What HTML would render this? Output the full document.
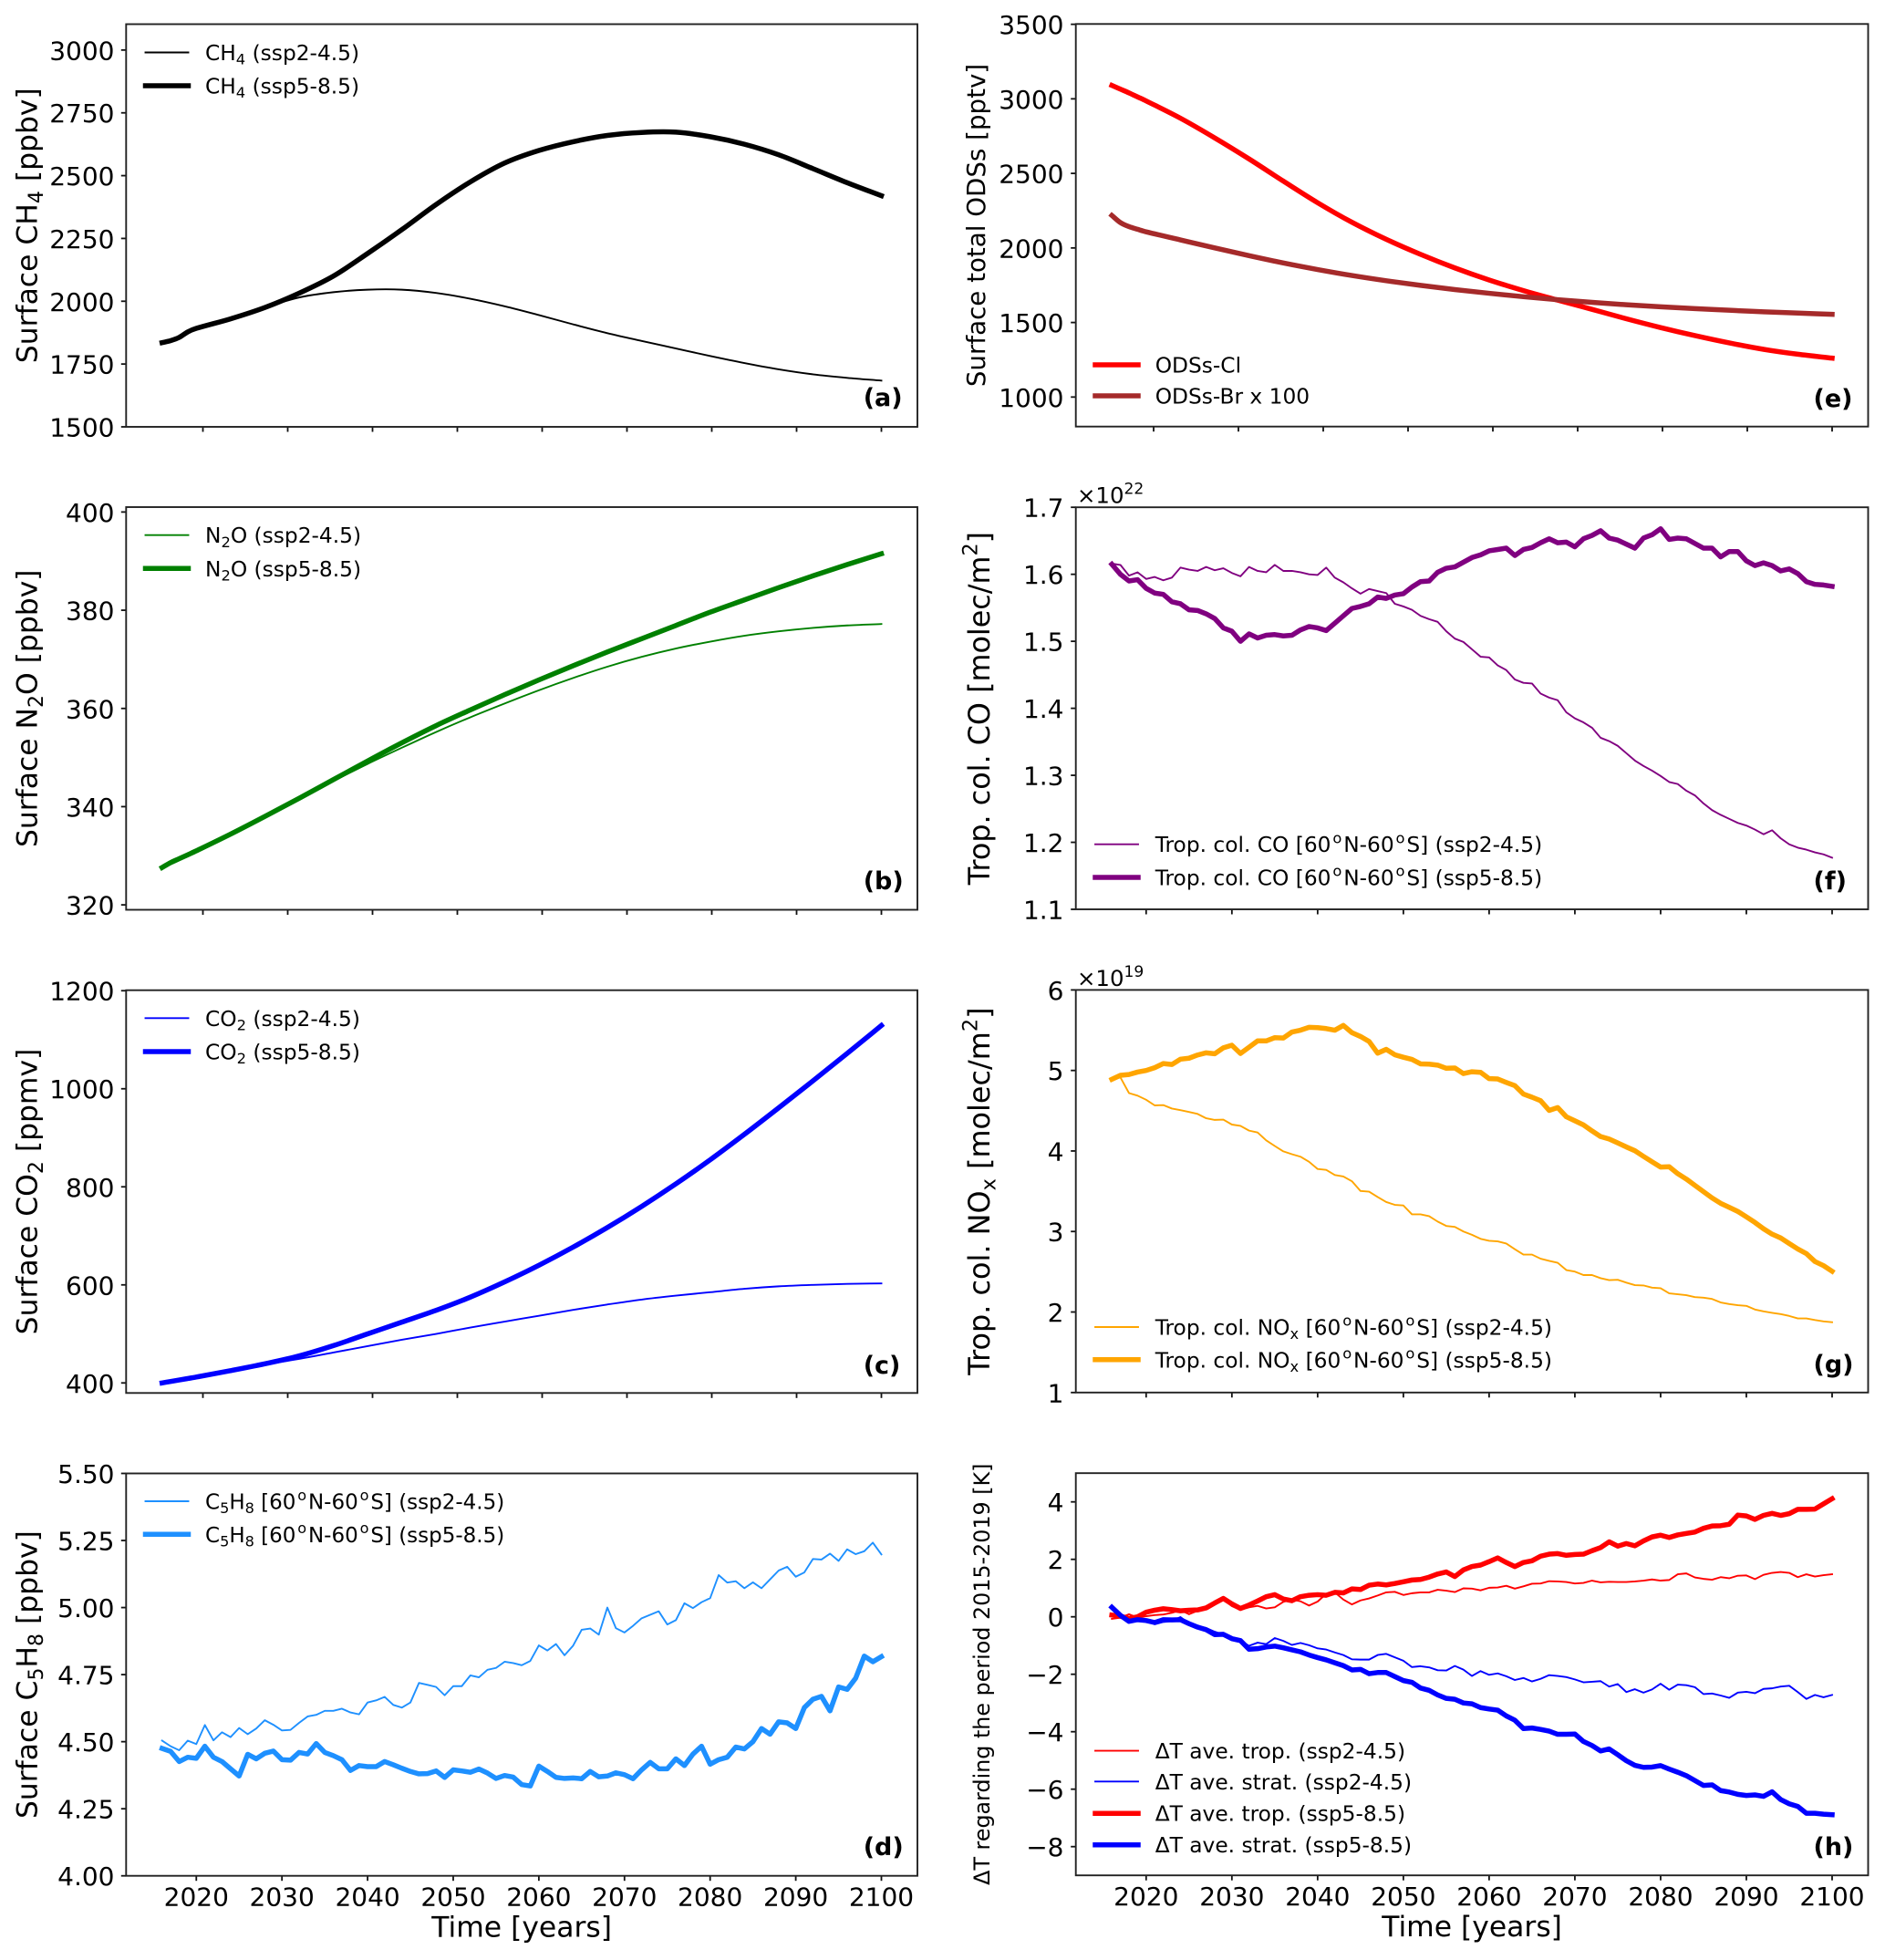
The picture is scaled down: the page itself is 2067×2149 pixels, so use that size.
<!DOCTYPE html>
<html lang="en">
<head>
<meta charset="utf-8">
<title>Projected surface and tropospheric column trends 2016-2100</title>
<style>
html,body{margin:0;padding:0;background:#fff;width:2067px;height:2149px;overflow:hidden}
svg{display:block;font-family:"DejaVu Sans","Liberation Sans",sans-serif;fill:#000}
</style>
</head>
<body>
<svg id="figure" xmlns="http://www.w3.org/2000/svg" width="2067" height="2149" viewBox="0 0 2067 2149"></svg>
<script>
const years = [2016,2017,2018,2019,2020,2021,2022,2023,2024,2025,2026,2027,2028,2029,2030,2031,2032,2033,2034,2035,2036,2037,2038,2039,2040,2041,2042,2043,2044,2045,2046,2047,2048,2049,2050,2051,2052,2053,2054,2055,2056,2057,2058,2059,2060,2061,2062,2063,2064,2065,2066,2067,2068,2069,2070,2071,2072,2073,2074,2075,2076,2077,2078,2079,2080,2081,2082,2083,2084,2085,2086,2087,2088,2089,2090,2091,2092,2093,2094,2095,2096,2097,2098,2099,2100];
const sampledYears = [2016,2017,2018,2019,2020,2024,2028,2032,2036,2040,2044,2048,2052,2056,2060,2064,2068,2072,2076,2080,2084,2088,2092,2096,2100];
const xTickLabels = [2020,2030,2040,2050,2060,2070,2080,2090,2100];

const ch4Ssp245 = [1835,1843,1856,1878,1892,1930,1975,2015,2036,2046,2046,2033,2010,1980,1945,1908,1873,1842,1812,1782,1754,1729,1709,1695,1684];
const ch4Ssp585 = [1835,1843,1856,1878,1892,1930,1975,2032,2100,2190,2285,2385,2475,2550,2600,2635,2660,2672,2673,2655,2625,2583,2528,2472,2420];
const ch4Ticks = [1500,1750,2000,2250,2500,2750,3000];

const n2oSsp245 = [327.6,328.6,329.4,330.2,331,334.4,338,341.6,345.2,348.7,352,355.2,358.2,361,363.7,366.2,368.5,370.5,372.2,373.6,374.8,375.7,376.4,376.9,377.2];
const n2oSsp585 = [327.6,328.6,329.4,330.2,331,334.4,338,341.7,345.5,349.3,353,356.5,359.7,362.8,365.8,368.7,371.5,374.2,376.9,379.6,382.1,384.6,387,389.3,391.5];
const n2oTicks = [320,340,360,380,400];

const co2Ssp245 = [400,403,406,409,412,425,437.5,449,462,475,488,500,513,525,537,549,560,570,578,585,592,597,600,602,603];
const co2Ssp585 = [400,403,406,409,412,425,439,455,476,500,524,548,575,606,640,677,717,760,806,855,907,961,1016,1072,1129];
const co2Ticks = [400,600,800,1000,1200];

const c5h8Ssp245 = [4.504,4.483,4.468,4.504,4.491,4.562,4.505,4.535,4.517,4.551,4.528,4.549,4.58,4.563,4.542,4.544,4.57,4.594,4.6,4.615,4.615,4.623,4.609,4.602,4.646,4.654,4.667,4.637,4.627,4.646,4.719,4.712,4.704,4.673,4.707,4.707,4.747,4.74,4.768,4.775,4.798,4.793,4.785,4.801,4.859,4.84,4.864,4.822,4.858,4.917,4.922,4.899,5.0,4.923,4.907,4.932,4.96,4.973,4.986,4.937,4.953,5.016,4.998,5.02,5.035,5.121,5.093,5.098,5.072,5.094,5.072,5.105,5.138,5.152,5.115,5.131,5.181,5.179,5.201,5.174,5.217,5.199,5.21,5.242,5.198];
const c5h8Ssp585 = [4.475,4.464,4.426,4.442,4.438,4.483,4.442,4.426,4.399,4.372,4.453,4.436,4.457,4.465,4.433,4.431,4.46,4.454,4.493,4.46,4.448,4.433,4.393,4.411,4.407,4.407,4.426,4.414,4.401,4.389,4.38,4.381,4.391,4.367,4.395,4.391,4.386,4.398,4.383,4.363,4.374,4.368,4.34,4.335,4.409,4.389,4.367,4.363,4.365,4.362,4.389,4.369,4.372,4.384,4.377,4.362,4.395,4.423,4.399,4.399,4.436,4.411,4.454,4.483,4.416,4.433,4.442,4.48,4.473,4.5,4.549,4.528,4.574,4.57,4.549,4.627,4.658,4.669,4.615,4.704,4.695,4.737,4.819,4.798,4.817];
const c5h8Ticks = ["4.00","4.25","4.50","4.75","5.00","5.25","5.50"];

const odsCl = [3090,3065,3040,3013,2986,2870,2738,2597,2448,2303,2172,2058,1957,1866,1785,1714,1650,1588,1525,1466,1412,1363,1320,1287,1261];
const odsBr = [2218,2170,2143,2125,2108,2054,2000,1948,1899,1855,1815,1780,1749,1721,1696,1673,1653,1635,1619,1605,1593,1582,1572,1563,1555];
const odsTicks = [1000,1500,2000,2500,3000,3500];

const coSsp245 = [1.616,1.614,1.598,1.603,1.593,1.596,1.591,1.595,1.61,1.607,1.605,1.611,1.606,1.609,1.602,1.597,1.611,1.605,1.603,1.614,1.605,1.605,1.603,1.6,1.599,1.61,1.595,1.588,1.579,1.571,1.578,1.575,1.572,1.556,1.552,1.547,1.538,1.533,1.529,1.515,1.504,1.499,1.488,1.477,1.476,1.464,1.457,1.443,1.438,1.437,1.422,1.416,1.412,1.394,1.385,1.379,1.371,1.356,1.351,1.344,1.333,1.322,1.314,1.307,1.299,1.29,1.287,1.277,1.27,1.258,1.248,1.241,1.235,1.229,1.225,1.219,1.212,1.218,1.206,1.197,1.192,1.189,1.185,1.182,1.177];
const coSsp585 = [1.615,1.6,1.59,1.592,1.579,1.572,1.57,1.559,1.556,1.547,1.546,1.541,1.534,1.52,1.515,1.5,1.511,1.505,1.509,1.51,1.508,1.509,1.517,1.522,1.52,1.516,1.527,1.538,1.549,1.552,1.556,1.566,1.564,1.569,1.571,1.581,1.589,1.59,1.603,1.609,1.611,1.618,1.625,1.629,1.635,1.637,1.639,1.628,1.637,1.64,1.647,1.653,1.647,1.648,1.641,1.653,1.658,1.665,1.654,1.651,1.645,1.639,1.654,1.659,1.668,1.652,1.654,1.653,1.646,1.639,1.639,1.626,1.634,1.634,1.62,1.613,1.617,1.613,1.605,1.608,1.601,1.589,1.585,1.584,1.582];
const coTicks = ["1.1","1.2","1.3","1.4","1.5","1.6","1.7"];

const noxSsp245 = [4.89,4.914,4.719,4.687,4.636,4.566,4.57,4.527,4.507,4.484,4.46,4.406,4.386,4.39,4.328,4.312,4.253,4.23,4.132,4.062,3.995,3.96,3.929,3.866,3.776,3.765,3.702,3.683,3.624,3.503,3.495,3.428,3.366,3.331,3.323,3.213,3.213,3.19,3.123,3.069,3.057,3.0,2.959,2.909,2.885,2.877,2.85,2.78,2.713,2.713,2.662,2.635,2.611,2.521,2.502,2.459,2.459,2.42,2.396,2.4,2.365,2.334,2.33,2.303,2.295,2.232,2.22,2.209,2.185,2.178,2.162,2.119,2.099,2.084,2.076,2.031,2.008,1.99,1.974,1.951,1.92,1.92,1.9,1.884,1.873];
const noxSsp585 = [4.89,4.94,4.95,4.98,5.0,5.035,5.086,5.074,5.14,5.152,5.192,5.219,5.207,5.281,5.313,5.211,5.289,5.367,5.367,5.407,5.403,5.477,5.5,5.536,5.532,5.52,5.5,5.559,5.469,5.422,5.36,5.215,5.262,5.195,5.164,5.137,5.082,5.078,5.066,5.027,5.031,4.961,4.984,4.977,4.898,4.894,4.851,4.812,4.707,4.668,4.625,4.504,4.539,4.425,4.375,4.324,4.249,4.179,4.148,4.1,4.05,4.003,3.933,3.866,3.8,3.804,3.718,3.651,3.573,3.495,3.417,3.35,3.3,3.249,3.182,3.112,3.034,2.967,2.92,2.85,2.783,2.725,2.627,2.576,2.506];
const noxTicks = [1,2,3,4,5,6];

const tropSsp245 = [-0.07,-0.03,0.09,-0.03,0.02,0.06,0.08,0.14,0.23,0.09,0.21,0.28,0.51,0.6,0.37,0.24,0.33,0.38,0.29,0.33,0.52,0.6,0.54,0.39,0.53,0.8,0.85,0.6,0.43,0.57,0.64,0.74,0.85,0.87,0.76,0.82,0.85,0.85,0.94,0.91,0.86,0.99,0.98,0.92,1.01,1.02,1.08,0.98,1.06,1.15,1.16,1.24,1.23,1.21,1.16,1.18,1.26,1.2,1.22,1.21,1.21,1.23,1.26,1.3,1.26,1.28,1.48,1.51,1.37,1.32,1.29,1.38,1.34,1.43,1.44,1.31,1.46,1.53,1.56,1.53,1.38,1.48,1.4,1.45,1.48];
const stratSsp245 = [0.31,0.02,-0.15,-0.13,-0.13,-0.26,-0.18,-0.15,-0.01,-0.23,-0.32,-0.39,-0.52,-0.62,-0.76,-0.83,-1.01,-0.9,-0.95,-0.74,-0.84,-0.98,-0.91,-0.99,-1.1,-1.14,-1.24,-1.33,-1.48,-1.49,-1.49,-1.33,-1.29,-1.41,-1.53,-1.75,-1.72,-1.76,-1.86,-1.87,-1.71,-1.84,-2.06,-1.89,-2.02,-1.97,-2.07,-2.2,-2.13,-2.25,-2.16,-2.03,-2.06,-2.1,-2.18,-2.28,-2.26,-2.24,-2.43,-2.34,-2.62,-2.52,-2.64,-2.53,-2.33,-2.54,-2.36,-2.38,-2.45,-2.69,-2.67,-2.74,-2.82,-2.64,-2.61,-2.66,-2.51,-2.49,-2.43,-2.4,-2.62,-2.86,-2.72,-2.8,-2.72];
const tropSsp585 = [0.06,0.02,-0.06,0,0.16,0.23,0.28,0.25,0.21,0.23,0.24,0.31,0.48,0.64,0.45,0.29,0.41,0.55,0.7,0.77,0.62,0.56,0.7,0.75,0.77,0.75,0.85,0.83,0.97,0.95,1.1,1.14,1.11,1.16,1.22,1.28,1.3,1.38,1.49,1.56,1.4,1.63,1.75,1.8,1.92,2.05,1.89,1.75,1.89,1.95,2.11,2.18,2.2,2.14,2.17,2.18,2.3,2.41,2.61,2.46,2.55,2.47,2.64,2.78,2.84,2.76,2.85,2.9,2.95,3.08,3.16,3.17,3.22,3.54,3.51,3.39,3.53,3.6,3.53,3.59,3.74,3.74,3.75,3.93,4.11];
const stratSsp585 = [0.33,0.05,-0.16,-0.1,-0.13,-0.2,-0.1,-0.11,-0.1,-0.24,-0.36,-0.45,-0.62,-0.61,-0.76,-0.83,-1.13,-1.11,-1.05,-1.02,-1.08,-1.15,-1.22,-1.33,-1.42,-1.5,-1.6,-1.7,-1.85,-1.83,-1.98,-1.94,-1.94,-2.08,-2.22,-2.28,-2.48,-2.56,-2.72,-2.84,-2.87,-3.0,-3.03,-3.16,-3.21,-3.25,-3.45,-3.6,-3.89,-3.87,-3.92,-3.98,-4.09,-4.09,-4.08,-4.34,-4.48,-4.67,-4.6,-4.8,-5.01,-5.17,-5.24,-5.23,-5.18,-5.3,-5.41,-5.53,-5.7,-5.87,-5.85,-6.05,-6.1,-6.18,-6.22,-6.2,-6.25,-6.09,-6.36,-6.51,-6.6,-6.84,-6.84,-6.87,-6.89];
const tempTicks = ["\u22128","\u22126","\u22124","\u22122","0","2","4"];

const SVGNS = "http://www.w3.org/2000/svg";
const THIN = 1.9, THICK = 5.5;
const TICK_FONT = 28, LABEL_FONT = 31.4, LEGEND_FONT = 23.3, TAG_FONT = 27;
const figure = document.getElementById("figure");

function make(tag, attrs, parent) {
  const node = document.createElementNS(SVGNS, tag);
  for (const key in attrs) node.setAttribute(key, attrs[key]);
  parent.appendChild(node);
  return node;
}
/* _{x} is a subscript and ^{x} a superscript, drawn as real tspans. */
function richText(node, source, size) {
  const parts = source.split(/([_^]\{[^}]*\})/);
  let lift = 0;
  let pad = 0;
  parts.forEach(function (part) {
    if (!part) return;
    const isScript = /^[_^]\{/.test(part);
    const span = make("tspan", {}, node);
    if (isScript) {
      const shift = part[0] === "_" ? size * 0.2 : -size * 0.42;
      span.setAttribute("dy", shift - lift);
      span.setAttribute("font-size", size * 0.7);
      span.textContent = part.slice(2, -1);
      lift = shift;
      if (part.slice(2, -1) === "o") {
        span.setAttribute("dx", 1.85);
        pad = 1.85;
      }
    } else {
      if (lift !== 0) span.setAttribute("dy", -lift);
      if (pad) span.setAttribute("dx", pad);
      span.textContent = part;
      lift = 0;
      pad = 0;
    }
  });
}
/* Hermite spline through the read values, honouring uneven year spacing. */
function smoothPath(pts) {
  const slope = function (i) {
    const a = pts[Math.max(0, i - 1)], b = pts[Math.min(pts.length - 1, i + 1)];
    return (b[1] - a[1]) / (b[0] - a[0]);
  };
  let d = "M" + pts[0][0].toFixed(2) + " " + pts[0][1].toFixed(2);
  for (let i = 0; i < pts.length - 1; i++) {
    const p1 = pts[i], p2 = pts[i + 1], h = (p2[0] - p1[0]) / 3;
    d += "C" + (p1[0] + h).toFixed(2) + " " + (p1[1] + slope(i) * h).toFixed(2) + " " + (p2[0] - h).toFixed(2) + " " + (p2[1] - slope(i + 1) * h).toFixed(2) + " " + p2[0].toFixed(2) + " " + p2[1].toFixed(2);
  }
  return d;
}
function linePath(pts) {
  return "M" + pts.map(function (p) { return p[0].toFixed(2) + " " + p[1].toFixed(2); }).join("L");
}

const LEFT_COL = { left: 138.3, right: 1006, x2016: 177.7, x2100: 966.5, ylabelX: 40.5, tickRight: 125.5, legendX: 159.5, legendTextX: 225, tagX: 946.7 };
const RIGHT_COL = { left: 1179.7, right: 2048.5, x2016: 1219.2, x2100: 2009, ylabelX: 1085, tickRight: 1166.5, legendX: 1201, legendTextX: 1266.7, tagX: 1988.5 };

const panels = [
  { key: "ch4", col: LEFT_COL, top: 26.5, bottom: 468, yMin: 1500, yMax: 3103, ticks: ch4Ticks, shiftTicks: true, ylabel: "Surface CH_{4} [ppbv]", tag: "(a)", tagY: 445, legendRows: [57.5, 94],
    series: [
      { name: "CH_{4} (ssp2-4.5)", id: "ch4-ssp245", xs: sampledYears, ys: ch4Ssp245, color: "#000000", width: THIN, smooth: true },
      { name: "CH_{4} (ssp5-8.5)", id: "ch4-ssp585", xs: sampledYears, ys: ch4Ssp585, color: "#000000", width: THICK, smooth: true }] },
  { key: "n2o", col: LEFT_COL, top: 556, bottom: 997.5, yMin: 319, yMax: 401, ticks: n2oTicks, shiftTicks: true, ylabel: "Surface N_{2}O [ppbv]", tag: "(b)", tagY: 975, legendRows: [586.7, 623.3],
    series: [
      { name: "N_{2}O (ssp2-4.5)", id: "n2o-ssp245", xs: sampledYears, ys: n2oSsp245, color: "#008000", width: THIN, smooth: true },
      { name: "N_{2}O (ssp5-8.5)", id: "n2o-ssp585", xs: sampledYears, ys: n2oSsp585, color: "#008000", width: THICK, smooth: true }] },
  { key: "co2", col: LEFT_COL, top: 1085.7, bottom: 1527.3, yMin: 379.5, yMax: 1201, ticks: co2Ticks, shiftTicks: true, ylabel: "Surface CO_{2} [ppmv]", tag: "(c)", tagY: 1506, legendRows: [1116.3, 1153],
    series: [
      { name: "CO_{2} (ssp2-4.5)", id: "co2-ssp245", xs: sampledYears, ys: co2Ssp245, color: "#0000ff", width: THIN, smooth: true },
      { name: "CO_{2} (ssp5-8.5)", id: "co2-ssp585", xs: sampledYears, ys: co2Ssp585, color: "#0000ff", width: THICK, smooth: true }] },
  { key: "c5h8", col: LEFT_COL, top: 1615.5, bottom: 2056.7, yMin: 4, yMax: 5.5, ticks: c5h8Ticks, xLabels: true, ylabel: "Surface C_{5}H_{8} [ppbv]", tag: "(d)", tagY: 2034, legendRows: [1646, 1682.3], legendFont: 23,
    series: [
      { name: "C_{5}H_{8} [60^{o}N-60^{o}S] (ssp2-4.5)", id: "c5h8-ssp245", xs: years, ys: c5h8Ssp245, color: "#1e90ff", width: THIN },
      { name: "C_{5}H_{8} [60^{o}N-60^{o}S] (ssp5-8.5)", id: "c5h8-ssp585", xs: years, ys: c5h8Ssp585, color: "#1e90ff", width: THICK }] },
  { key: "ods", col: RIGHT_COL, top: 26.3, bottom: 467.7, yMin: 802, yMax: 3502, ticks: odsTicks, shiftTicks: true, ylabel: "Surface total ODSs [pptv]", ylabelFont: 27.7, ylabelX: 1080, tag: "(e)", tagY: 446, legendRows: [400, 434],
    series: [
      { name: "ODSs-Cl", id: "ods-cl", xs: sampledYears, ys: odsCl, color: "#ff0000", width: THICK, smooth: true },
      { name: "ODSs-Br x 100", id: "ods-br", xs: sampledYears, ys: odsBr, color: "#a52a2a", width: THICK, smooth: true }] },
  { key: "co", col: RIGHT_COL, top: 556.2, bottom: 997, yMin: 1.1, yMax: 1.7, ticks: coTicks, ylabel: "Trop. col. CO [molec/m^{2}]", ylabelFont: 31.8, tag: "(f)", tagY: 975, legendRows: [925.7, 962], offset: "\u00d710^{22}", offsetY: 551.5,
    series: [
      { name: "Trop. col. CO [60^{o}N-60^{o}S] (ssp2-4.5)", id: "co-ssp245", xs: years, ys: coSsp245, color: "#800080", width: THIN },
      { name: "Trop. col. CO [60^{o}N-60^{o}S] (ssp5-8.5)", id: "co-ssp585", xs: years, ys: coSsp585, color: "#800080", width: THICK }] },
  { key: "nox", col: RIGHT_COL, top: 1085.4, bottom: 1526.8, yMin: 1, yMax: 6, ticks: noxTicks, ylabel: "Trop. col. NO_{x} [molec/m^{2}]", ylabelFont: 31.9, tag: "(g)", tagY: 1505, legendRows: [1455, 1490.8], offset: "\u00d710^{19}", offsetY: 1081,
    series: [
      { name: "Trop. col. NO_{x} [60^{o}N-60^{o}S] (ssp2-4.5)", id: "nox-ssp245", xs: years, ys: noxSsp245, color: "#ffa500", width: THIN },
      { name: "Trop. col. NO_{x} [60^{o}N-60^{o}S] (ssp5-8.5)", id: "nox-ssp585", xs: years, ys: noxSsp585, color: "#ffa500", width: THICK }] },
  { key: "temp", col: RIGHT_COL, top: 1615.2, bottom: 2056.2, yMin: -9, yMax: 5, ticks: tempTicks, xLabels: true, ylabel: "\u0394T regarding the period 2015-2019 [K]", ylabelFont: 23.8, tag: "(h)", tagY: 2034, legendRows: [1919.6, 1953.3, 1988.2, 2022.7],
    series: [
      { name: "\u0394T ave. trop. (ssp2-4.5)", id: "trop-ssp245", xs: years, ys: tropSsp245, color: "#ff0000", width: THIN },
      { name: "\u0394T ave. strat. (ssp2-4.5)", id: "strat-ssp245", xs: years, ys: stratSsp245, color: "#0000ff", width: THIN },
      { name: "\u0394T ave. trop. (ssp5-8.5)", id: "trop-ssp585", xs: years, ys: tropSsp585, color: "#ff0000", width: THICK },
      { name: "\u0394T ave. strat. (ssp5-8.5)", id: "strat-ssp585", xs: years, ys: stratSsp585, color: "#0000ff", width: THICK }] }
];

panels.forEach(function (panel) {
  const col = panel.col;
  const xScale = function (year) { return col.x2016 + (year - 2016) * (col.x2100 - col.x2016) / 84; };
  const yScale = function (value) { return panel.bottom - (value - panel.yMin) * (panel.bottom - panel.top) / (panel.yMax - panel.yMin); };
  const xTickPos = function (year) {
    if (!panel.shiftTicks) return xScale(year);
    return col.x2100 - (2100 - year) * 9.3;
  };

  const group = make("g", {}, figure);
  
  

  const yGroup = make("g", {}, group);
  
  
  panel.ticks.forEach(function (label) {
    const value = parseFloat(String(label).replace("\u2212", "-"));
    const py = yScale(value);
    const tick = make("line", { x1: col.left - 5.5, x2: col.left, y1: py, y2: py, stroke: "#111", "stroke-width": 1.8 }, yGroup);
    
    
    const text = make("text", { x: col.tickRight, y: py + 10.5, "text-anchor": "end", "font-size": TICK_FONT }, yGroup);
    
    
    text.textContent = label;
  });

  const xGroup = make("g", {}, group);
  
  
  xTickLabels.forEach(function (year) {
    const px = xTickPos(year);
    const tick = make("line", { x1: px, x2: px, y1: panel.bottom, y2: panel.bottom + 5.5, stroke: "#111", "stroke-width": 1.8 }, xGroup);
    
    
    if (panel.xLabels) {
      const text = make("text", { x: px, y: panel.bottom + 32.6, "text-anchor": "middle", "font-size": TICK_FONT }, xGroup);
      
      
      text.textContent = year;
    }
  });
  if (panel.xLabels) {
    const xTitle = make("text", { x: (col.left + col.right) / 2, y: panel.bottom + 67, "text-anchor": "middle", "font-size": LABEL_FONT }, xGroup);
    
    
    xTitle.textContent = "Time [years]";
  }

  const yFont = panel.ylabelFont || LABEL_FONT;
  const yx = panel.ylabelX || col.ylabelX;
  const yc = (panel.top + panel.bottom) / 2;
  const yTitle = make("text", { transform: "translate(" + yx + " " + yc + ") rotate(-90)", "text-anchor": "middle", "font-size": yFont }, group);
  
  
  richText(yTitle, panel.ylabel, yFont);

  panel.series.forEach(function (s) {
    const pts = s.xs.map(function (year, i) { return [xScale(year), yScale(s.ys[i])]; });
    const path = make("path", { d: s.smooth ? smoothPath(pts) : linePath(pts), fill: "none", stroke: s.color, "stroke-width": s.width, "stroke-linejoin": "round", "stroke-linecap": "square" }, group);
    
    
  });

  const frame = make("rect", { x: col.left, y: panel.top, width: col.right - col.left, height: panel.bottom - panel.top, fill: "none", stroke: "#222", "stroke-width": 1.9 }, group);
  
  

  const legend = make("g", {}, group);
  
  
  const legendSize = panel.legendFont || LEGEND_FONT;
  panel.series.forEach(function (s, i) {
    const ry = panel.legendRows[i];
    const entry = make("g", {}, legend);
    
    
    make("line", { x1: col.legendX, x2: col.legendX + 47, y1: ry, y2: ry, stroke: s.color, "stroke-width": s.width, "stroke-linecap": "square" }, entry);
    const label = make("text", { x: col.legendTextX, y: ry + 8.5, "font-size": legendSize }, entry);
    richText(label, s.name, legendSize);
  });

  const tag = make("text", { x: col.tagX, y: panel.tagY, "font-size": TAG_FONT, "font-weight": "bold" }, group);
  
  
  tag.textContent = panel.tag;

  if (panel.offset) {
    const offset = make("text", { x: 1181, y: panel.offsetY, "font-size": 24.4 }, group);
    
    
    richText(offset, panel.offset, 24.4);
  }
});
</script>
</body>
</html>
